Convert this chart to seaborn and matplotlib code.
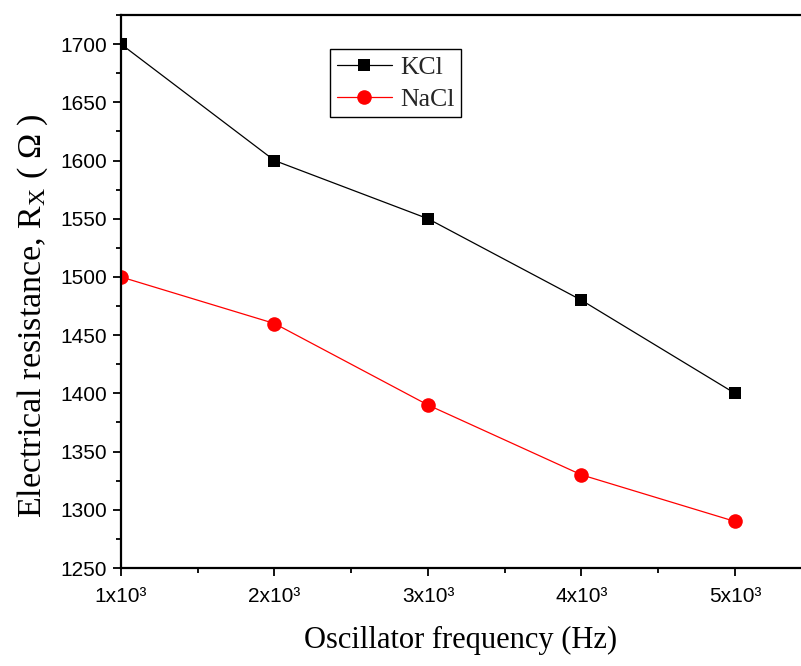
import matplotlib
matplotlib.use("Agg")
import matplotlib.pyplot as plt
from matplotlib.ticker import FixedLocator, MultipleLocator, FuncFormatter
import seaborn as sns
import pandas as pd

# Measured resistance vs oscillator frequency
frequency_hz = [1000, 2000, 3000, 4000, 5000]
kcl_ohm = [1700, 1600, 1550, 1480, 1400]
nacl_ohm = [1500, 1460, 1390, 1330, 1290]
series_names = ["KCl", "NaCl"]

df = pd.DataFrame({
    "freq": frequency_hz * 2,
    "R": kcl_ohm + nacl_ohm,
    "salt": [series_names[0]] * len(kcl_ohm) + [series_names[1]] * len(nacl_ohm),
})

sns.set_theme(style="white")
plt.rcParams["font.family"] = ["Liberation Sans", "DejaVu Sans"]
plt.rcParams["mathtext.fontset"] = "custom"
plt.rcParams["mathtext.rm"] = "Liberation Serif"
plt.rcParams["mathtext.it"] = "Liberation Serif:italic"
plt.rcParams["mathtext.sf"] = "Liberation Sans"

fig = plt.figure(figsize=(8.01, 6.66), dpi=100)
ax = fig.add_axes([121 / 801, 98 / 666, 1 - 121 / 801, (568 - 15) / 666])

sns.lineplot(
    data=df, x="freq", y="R", hue="salt", style="salt",
    palette={"KCl": "black", "NaCl": "red"},
    markers={"KCl": "s", "NaCl": "o"}, dashes=False,
    markersize=9, markeredgewidth=0, linewidth=0.9, ax=ax,
)
# the circle markers are a bit larger
for line in ax.lines:
    if line.get_marker() == "o":
        line.set_markersize(10.5)

ax.set_xlim(1000, 5430)
ax.set_ylim(1250, 1725)

ax.xaxis.set_major_locator(FixedLocator(frequency_hz))
ax.xaxis.set_minor_locator(MultipleLocator(500))
ax.xaxis.set_major_formatter(FuncFormatter(lambda v, p: "%dx10\u00b3" % round(v / 1000)))
ax.yaxis.set_major_locator(MultipleLocator(50))
ax.yaxis.set_minor_locator(MultipleLocator(25))

for side in ["left", "bottom", "top"]:
    ax.spines[side].set_visible(True)
    ax.spines[side].set_color("black")
    ax.spines[side].set_linewidth(1.6)
ax.spines["right"].set_visible(False)

ax.tick_params(axis="both", which="major", direction="out", length=6, width=1.3,
               labelsize=15, color="black", labelcolor="black", pad=4,
               bottom=True, left=True, top=False, right=False)
ax.tick_params(axis="both", which="minor", direction="out", length=3.5, width=1.3,
               color="black", bottom=True, left=True, top=False, right=False)
ax.tick_params(axis="x", which="major", pad=8)

ax.set_xlabel("Oscillator frequency (Hz)", fontsize=22, family="Liberation Serif",
              color="black", labelpad=14)
ax.set_ylabel(r"Electrical resistance, R$_\mathrm{X}$ ( $\Omega$ )", fontsize=24.5,
              family="Liberation Serif", color="black")
ax.yaxis.set_label_coords(-0.105, 0.457)

leg = ax.legend(loc="upper left", bbox_to_anchor=(0.308, 0.938), frameon=True,
                fancybox=False, edgecolor="black", framealpha=1,
                prop={"family": "Liberation Serif", "size": 18.5},
                handlelength=2.15, handletextpad=0.3, borderpad=0.25,
                labelspacing=0.35, borderaxespad=0)
leg.get_frame().set_linewidth(1.0)
for h in leg.legend_handles:
    if h.get_marker() == "o":
        h.set_markersize(10.5)

fig.savefig("out.png", dpi=100)
